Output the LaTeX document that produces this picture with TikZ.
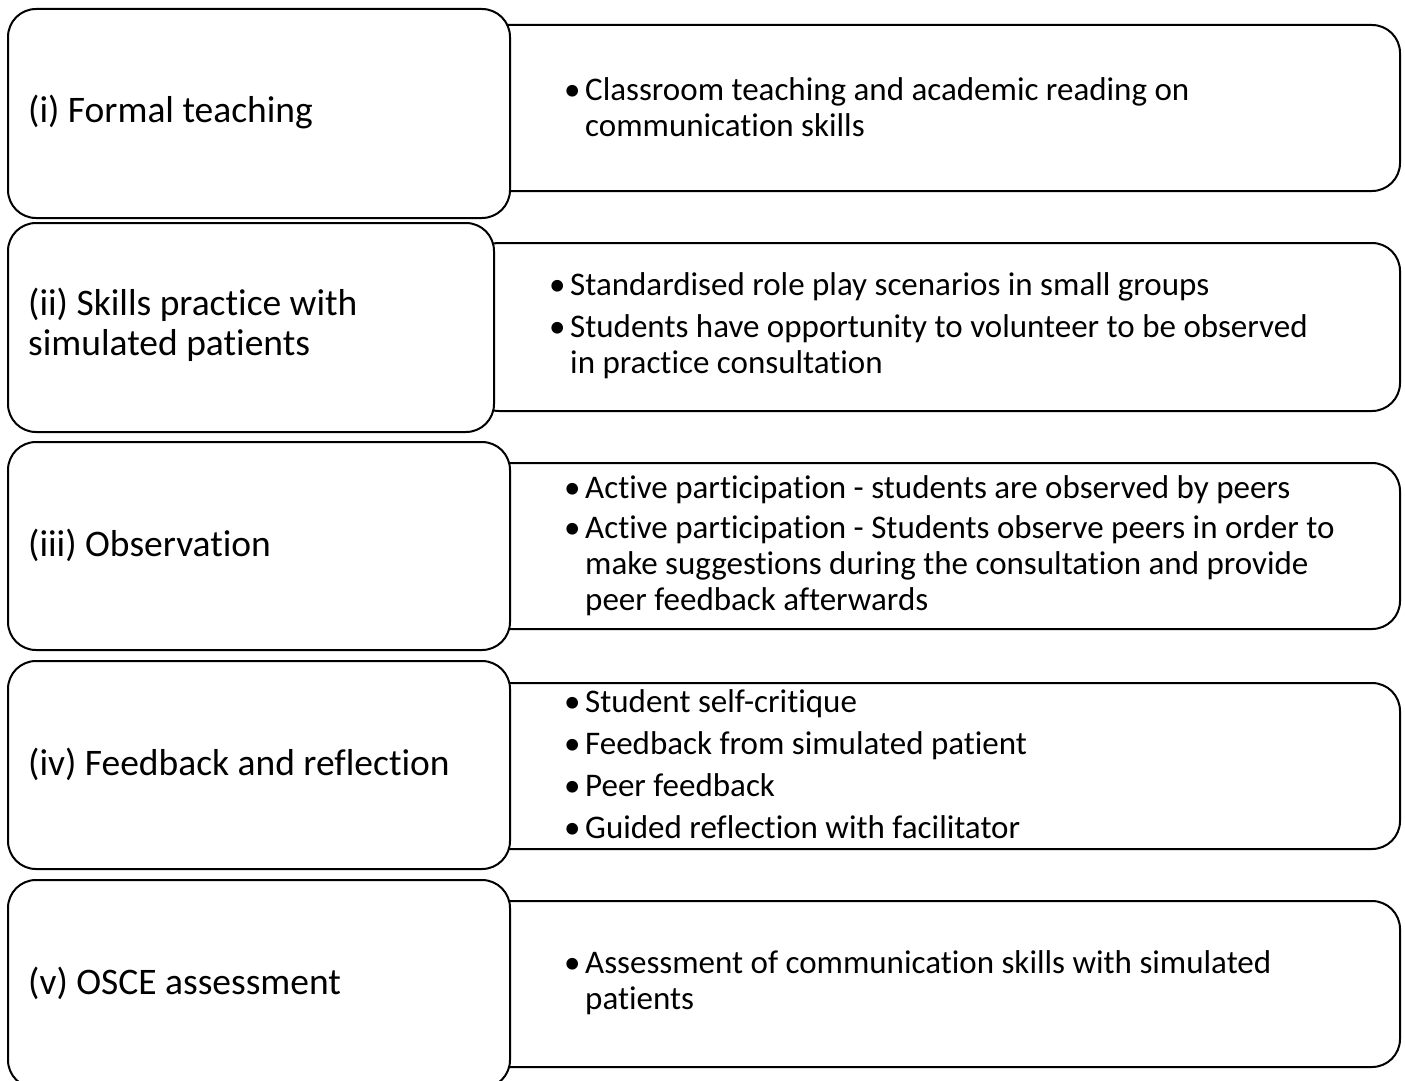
\documentclass[tikz,border=0pt]{standalone}
\usepackage{fontspec}
\setmainfont{Carlito}[Ligatures=NoCommon]
\newcommand{\bl}{\makebox[21pt][l]{\textbullet}}
\newcommand{\ind}{\hspace*{21pt}}
\begin{document}
\begin{tikzpicture}[x=1pt,y=-1pt,
  box/.style={draw=black, line width=2pt, rounded corners=28pt, fill=white, inner sep=0pt, anchor=north west},
  lefttext/.style={font=\fontsize{37.5}{40}\selectfont, align=left, anchor=west, inner sep=0pt},
  righttext/.style={font=\fontsize{33}{36}\selectfont, align=left, anchor=west, inner sep=0pt}]
\useasboundingbox (0,0) rectangle (1405,1081);
% row 1
\node[box, minimum width=929pt, minimum height=166pt] (r1) at (470,24) {};
\node[box, minimum width=502pt, minimum height=209pt] (l1) at (7,8) {};
\node[lefttext] (lt1) at (28,112) {(i) Formal teaching};
\node[righttext] (rt1) at (564,107) {\bl Classroom teaching and academic reading on\\\ind communication skills};
% row 2
\node[box, minimum width=929pt, minimum height=168pt] (r2) at (470,242) {};
\node[box, minimum width=486pt, minimum height=209pt] (l2) at (7,222) {};
\node[lefttext] (lt2) at (28,325) {(ii) Skills practice with\\simulated patients};
\node[righttext] (rt2) at (549,326) {\bl Standardised role play scenarios in small groups\\[6pt]\bl Students have opportunity to volunteer to be observed\\\ind in practice consultation};
% row 3
\node[box, minimum width=929pt, minimum height=166pt] (r3) at (470,462) {};
\node[box, minimum width=502pt, minimum height=208pt] (l3) at (7,441) {};
\node[lefttext] (lt3) at (28,545) {(iii) Observation};
\node[righttext] (rt3) at (564,546) {\bl Active participation - students are observed by peers\\[4pt]\bl Active participation - Students observe peers in order to\\\ind make suggestions during the consultation and provide\\\ind peer feedback afterwards};
% row 4
\node[box, minimum width=929pt, minimum height=166pt] (r4) at (470,682) {};
\node[box, minimum width=502pt, minimum height=208pt] (l4) at (7,660) {};
\node[lefttext] (lt4) at (28,764) {(iv) Feedback and reflection};
\node[righttext] (rt4) at (564,764) {\bl Student self-critique\\[6pt]\bl Feedback from simulated patient\\[6pt]\bl Peer feedback\\[6pt]\bl Guided reflection with facilitator};
% row 5
\node[box, minimum width=929pt, minimum height=166pt] (r5) at (470,900) {};
\node[box, minimum width=502pt, minimum height=208pt] (l5) at (7,879) {};
\node[lefttext] (lt5) at (28,983) {(v) OSCE assessment};
\node[righttext] (rt5) at (564,983) {\bl Assessment of communication skills with simulated\\\ind patients};
\end{tikzpicture}
\end{document}
